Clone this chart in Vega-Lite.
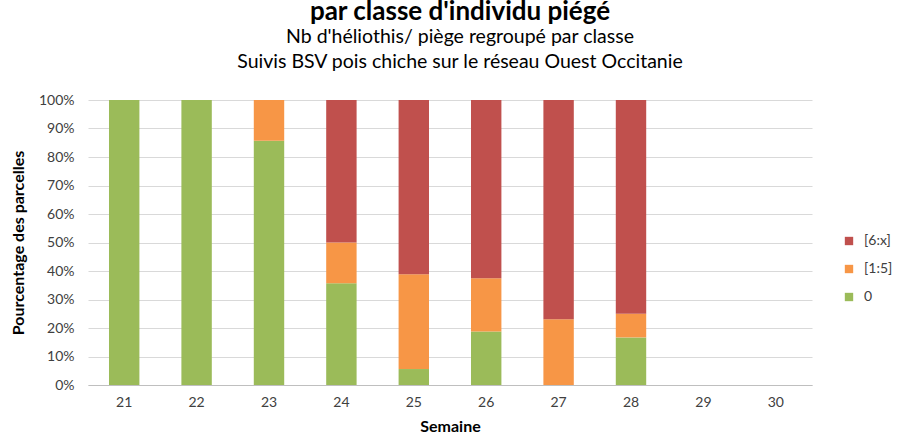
{
  "$schema": "https://vega.github.io/schema/vega-lite/v6.json",
  "width": 724,
  "height": 285,
  "autosize": "none",
  "padding": {"left": 88, "top": 100, "right": 104, "bottom": 58},
  "background": "white",
  "title": {
    "text": "par classe d'individu piégé",
    "subtitle": ["Nb d'héliothis/ piège regroupé par classe", "Suivis BSV pois chiche sur le réseau Ouest Occitanie"],
    "anchor": "middle",
    "dx": 10,
    "offset": 22,
    "font": "Lato",
    "fontSize": 26,
    "fontWeight": "bold",
    "color": "#000000",
    "subtitleFont": "Lato",
    "subtitleFontSize": 19.5,
    "subtitleColor": "#000000",
    "subtitlePadding": 3,
    "subtitleLineHeight": 25
  },
  "data": {
    "values": [
      {"semaine": "21", "classe": "0", "pct": 1.0},
      {"semaine": "22", "classe": "0", "pct": 1.0},
      {"semaine": "23", "classe": "0", "pct": 0.857},
      {"semaine": "23", "classe": "[1:5]", "pct": 0.143},
      {"semaine": "24", "classe": "0", "pct": 0.357},
      {"semaine": "24", "classe": "[1:5]", "pct": 0.143},
      {"semaine": "24", "classe": "[6:x]", "pct": 0.5},
      {"semaine": "25", "classe": "0", "pct": 0.056},
      {"semaine": "25", "classe": "[1:5]", "pct": 0.333},
      {"semaine": "25", "classe": "[6:x]", "pct": 0.611},
      {"semaine": "26", "classe": "0", "pct": 0.1875},
      {"semaine": "26", "classe": "[1:5]", "pct": 0.1875},
      {"semaine": "26", "classe": "[6:x]", "pct": 0.625},
      {"semaine": "27", "classe": "[1:5]", "pct": 0.231},
      {"semaine": "27", "classe": "[6:x]", "pct": 0.769},
      {"semaine": "28", "classe": "0", "pct": 0.167},
      {"semaine": "28", "classe": "[1:5]", "pct": 0.083},
      {"semaine": "28", "classe": "[6:x]", "pct": 0.75}
    ]
  },
  "mark": {"type": "bar"},
  "encoding": {
    "x": {
      "field": "semaine",
      "type": "ordinal",
      "scale": {"domain": ["21","22","23","24","25","26","27","28","29","30"], "paddingInner": 0.58, "paddingOuter": 0.29},
      "axis": {
        "title": "Semaine",
        "titleFont": "Lato",
        "titleFontSize": 16,
        "titleFontWeight": "bold",
        "titleColor": "#000000",
        "titlePadding": 9,
        "labelAngle": 0,
        "labelFont": "Lato",
        "labelFontSize": 14,
        "labelColor": "#404040",
        "labelPadding": 10,
        "ticks": false,
        "domainColor": "#BFBFBF",
        "grid": false
      }
    },
    "y": {
      "field": "pct",
      "type": "quantitative",
      "stack": "zero",
      "scale": {"domain": [0, 1]},
      "axis": {
        "title": "Pourcentage des parcelles",
        "titleFont": "Lato",
        "titleFontSize": 16,
        "titleFontWeight": "bold",
        "titleColor": "#000000",
        "titlePadding": 12,
        "format": ".0%",
        "values": [0,0.1,0.2,0.3,0.4,0.5,0.6,0.7,0.8,0.9,1],
        "labelFont": "Lato",
        "labelFontSize": 14,
        "labelColor": "#404040",
        "labelPadding": 14,
        "ticks": false,
        "domain": false,
        "grid": true,
        "gridColor": "#D9D9D9"
      }
    },
    "color": {
      "field": "classe",
      "type": "nominal",
      "scale": {"domain": ["[6:x]", "[1:5]", "0"], "range": ["#C0504D", "#F79646", "#9BBB59"]},
      "legend": {
        "title": null,
        "orient": "none",
        "legendX": 754,
        "legendY": 134,
        "symbolType": "square",
        "symbolSize": 70,
        "symbolStrokeWidth": 0,
        "rowPadding": 14,
        "labelFont": "Lato",
        "labelFontSize": 14,
        "labelColor": "#404040",
        "labelOffset": 8
      }
    },
    "order": {"field": "classe", "sort": "ascending"}
  },
  "config": {"view": {"stroke": null}}
}
